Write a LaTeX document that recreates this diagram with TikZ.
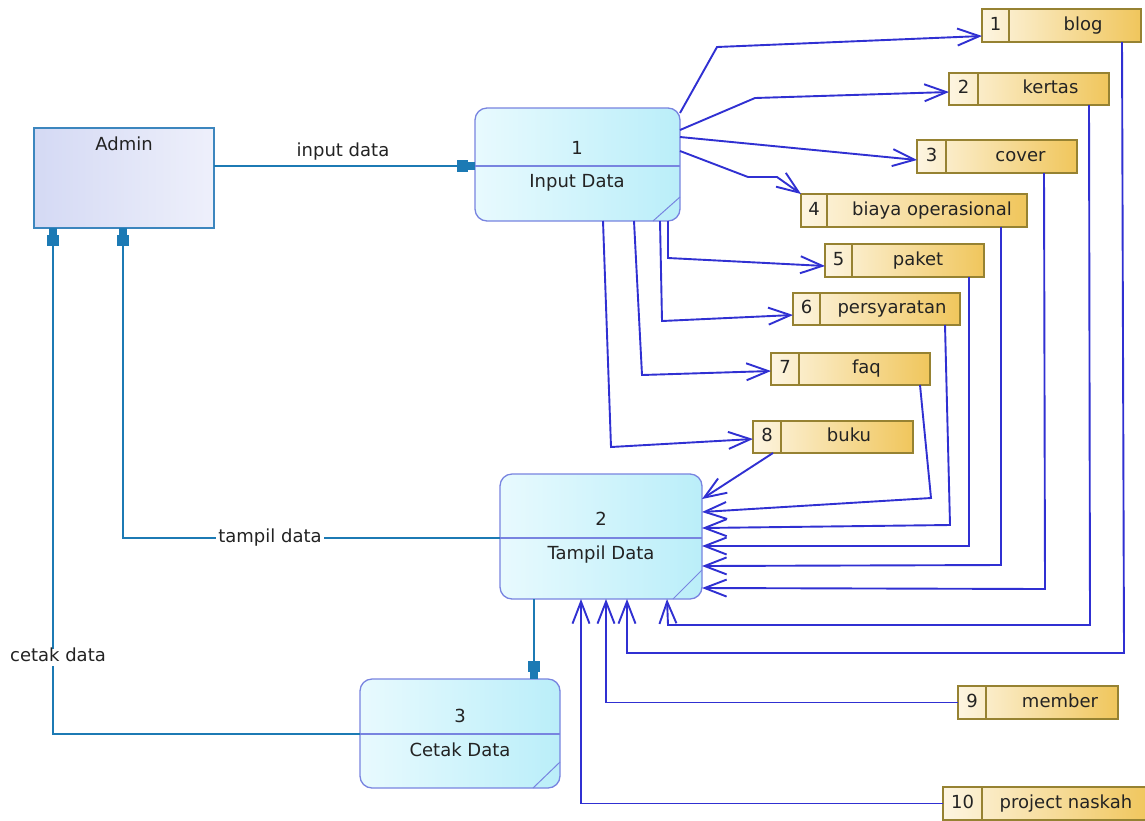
\documentclass[tikz,border=0pt]{standalone}
\usepackage{fontspec}
\setmainfont{DejaVu Sans}
\usetikzlibrary{arrows.meta,fit,calc}
\definecolor{flowblue}{RGB}{48,48,210}
\definecolor{tealc}{RGB}{28,122,180}
\definecolor{procline}{RGB}{120,132,224}
\definecolor{procL}{RGB}{232,250,254}
\definecolor{procR}{RGB}{186,238,249}
\definecolor{storeline}{RGB}{150,130,50}
\definecolor{storeL}{RGB}{253,245,225}
\definecolor{storeR}{RGB}{240,198,92}
\definecolor{entline}{RGB}{60,134,190}
\definecolor{entL}{RGB}{212,217,244}
\definecolor{entR}{RGB}{238,240,251}
\definecolor{txt}{RGB}{35,35,35}
\tikzset{
  every node/.style={font=\fontsize{18}{21}\selectfont, text=txt},
  box/.style={inner sep=0pt, outer sep=0pt},
  procbox/.style={box, draw=procline, line width=1.3pt, rounded corners=12pt, left color=procL, right color=procR},
  storebox/.style={box, draw=storeline, line width=1.4pt, left color=storeL, right color=storeR},
  entbox/.style={box, draw=entline, line width=1.8pt, left color=entL, right color=entR},
  flow/.style={draw=flowblue, line width=1.9pt, -{Straight Barb[length=22pt,width=17pt]}},
  tflow/.style={draw=tealc, line width=2pt, -{Rectangle[length=11pt,width=12pt,sep=-1pt] Rectangle[length=8pt,width=8pt]}},
  t/.style={text height=13pt, text depth=4pt, inner sep=0pt},
  lbl/.style={fill=white, inner xsep=2pt},
  divline/.style={draw=procline, line width=1.3pt},
}
% #1 name, #2 x1, #3 y1, #4 x2, #5 y2, #6 xdiv, #7 num, #8 label, #9 offset
\newcommand\dstore[9]{%
  \node[storebox, fit={(#2,#3) (#4,#5)}] (#1) {};
  \draw[storeline, line width=1.4pt] (#6,#3) -- (#6,#5);
  \node[t] at ({(#2+#6)/2},{(#3+#5)/2}) {#7};
  \node[t] at ({(#6+#4)/2+#9},{(#3+#5)/2}) {#8};
}
\begin{document}
\begin{tikzpicture}[x=1pt,y=-1pt]
\fill[white] (0,0) rectangle (1145,820);
\useasboundingbox (0,0) rectangle (1145,820);

% external entity
\node[entbox, fit={(34,128) (214,228)}] (a) {};
\node[t] at (124,146) {Admin};

% processes
\node[procbox, fit={(475,108) (680,221)}] (p1) {};
\draw[divline] (p1.west |- 0,166) -- (p1.east |- 0,166);
\draw[procline, line width=1pt] (653,221) -- (680,197);
\node[t] at (577,150) {1};
\node[t] at (577,183) {Input Data};

\node[procbox, fit={(500,474) (702,599)}] (p2) {};
\draw[divline] (p2.west |- 0,538) -- (p2.east |- 0,538);
\draw[procline, line width=1pt] (673,599) -- (702,570);
\node[t] at (601,521) {2};
\node[t] at (601,555) {Tampil Data};

\node[procbox, fit={(360,679) (560,788)}] (p3) {};
\draw[divline] (p3.west |- 0,734) -- (p3.east |- 0,734);
\draw[procline, line width=1pt] (533,788) -- (560,762);
\node[t] at (460,718) {3};
\node[t] at (460,752) {Cetak Data};

% data stores
\dstore{s1}{982}{9}{1141}{42}{1009}{1}{blog}{8}
\dstore{s2}{949}{73}{1109}{105}{978}{2}{kertas}{7}
\dstore{s3}{917}{140}{1077}{173}{946}{3}{cover}{9}
\dstore{s4}{801}{194}{1027}{227}{827}{4}{biaya operasional}{5}
\dstore{s5}{825}{244}{984}{277}{852}{5}{paket}{0}
\dstore{s6}{793}{293}{960}{325}{820}{6}{persyaratan}{2}
\dstore{s7}{771}{353}{930}{385}{799}{7}{faq}{2}
\dstore{s8}{753}{421}{913}{453}{781}{8}{buku}{2}
\dstore{s9}{958}{686}{1118}{719}{986}{9}{member}{8}
\dstore{s10}{943}{787}{1150}{820}{982}{10}{project naskah}{0}

% teal flows
\draw[tflow] (a.east |- 0,166) -- (p1.west |- 0,166);
\node[t] at (343,152) {input data};
\draw[tflow] (p2.south -| 534,0) -- (p3.north -| 534,0);
\draw[tflow] (p2.west |- 0,538) -- (123,538) -- (a.south -| 123,0);
\node[t,lbl] at (270,538) {tampil data};
\draw[tflow] (p3.west |- 0,734) -- (53,734) -- (a.south -| 53,0);
\node[t,lbl] at (58,657) {cetak data};

% input data flows
\draw[flow] (p1.east |- 0,113) -- (717,47) -- (s1.west |- 0,36);
\draw[flow] (p1.east |- 0,130) -- (755,98) -- (s2.west |- 0,92);
\draw[flow] (p1.east |- 0,137) -- (s3.west |- 0,160);
\draw[flow] (p1.east |- 0,151) -- (748,177) -- (777,177) -- (s4.north west);
\draw[flow] (p1.south -| 668,0) -- (668,258) -- (s5.west |- 0,266);
\draw[flow] (p1.south -| 660,0) -- (662,321) -- (s6.west |- 0,315);
\draw[flow] (p1.south -| 634,0) -- (642,375) -- (s7.west |- 0,371);
\draw[flow] (p1.south -| 603,0) -- (611,447) -- (s8.west |- 0,439);

% store to tampil data flows
\draw[flow] (s8.south -| 773,0) -- (p2.east |- 0,499);
\draw[flow] (s7.south -| 920,0) -- (931,498) -- (p2.east |- 0,512);
\draw[flow] (s6.south -| 945,0) -- (950,525) -- (p2.east |- 0,528);
\draw[flow] (s5.south -| 969,0) -- (969,546) -- (p2.east |- 0,546);
\draw[flow] (s4.south -| 1001,0) -- (1001,565) -- (p2.east |- 0,566);
\draw[flow] (s3.south -| 1044,0) -- (1045,589) -- (p2.east |- 0,588);
\draw[flow] (s2.south -| 1089,0) -- (1090,625) -- (668,625) -- (p2.south -| 667,0);
\draw[flow] (s1.south -| 1122,0) -- (1124,653) -- (627,653) -- (p2.south -| 627,0);
\draw[flow] (s9.west) -- (606,702.5) -- (p2.south -| 606,0);
\draw[flow] (s10.west) -- (581,803.5) -- (p2.south -| 581,0);
\end{tikzpicture}
\end{document}
